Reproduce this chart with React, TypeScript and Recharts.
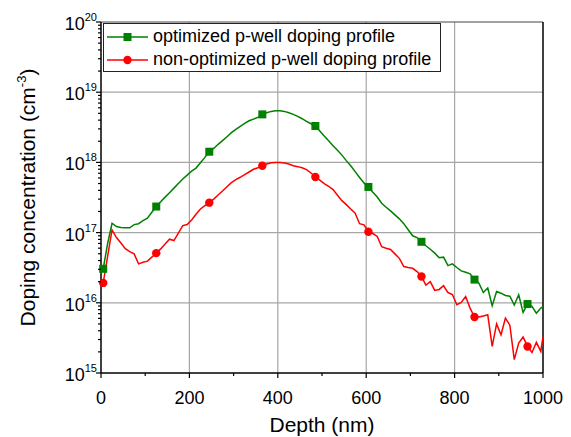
import React from 'react';
import { LineChart, Line, XAxis, YAxis, ReferenceLine, Legend, Label } from 'recharts';

// depth (nm) of each measured point
const depth = [
  5, 15, 25, 35, 45, 55, 65, 75, 85, 95,
  105, 115, 125, 135, 145, 155, 165, 175, 185, 195,
  205, 215, 225, 235, 245, 255, 265, 275, 285, 295,
  305, 315, 325, 335, 345, 355, 365, 375, 385, 395,
  405, 415, 425, 435, 445, 455, 465, 475, 485, 495,
  505, 515, 525, 535, 545, 555, 565, 575, 585, 595,
  605, 615, 625, 635, 645, 655, 665, 675, 685, 695,
  705, 715, 725, 735, 745, 755, 765, 775, 785, 795,
  805, 815, 825, 835, 845, 855, 865, 875, 885, 895,
  905, 915, 925, 935, 945, 955, 965, 975, 985, 995, 1000,
];

// optimized p-well doping profile (cm^-3)
const optimized = [
  3.05e16, 7.0e16, 1.36e17, 1.22e17, 1.18e17, 1.17e17, 1.17e17, 1.3e17, 1.34e17, 1.48e17,
  1.6e17, 1.95e17, 2.35e17, 2.76e17, 3.2e17, 3.7e17, 4.3e17, 5.0e17, 5.8e17, 6.6e17,
  7.5e17, 8.3e17, 9.9e17, 1.18e18, 1.42e18, 1.58e18, 1.81e18, 2.04e18, 2.32e18, 2.65e18,
  2.95e18, 3.26e18, 3.6e18, 3.92e18, 4.14e18, 4.37e18, 4.83e18, 5.1e18, 5.33e18, 5.43e18,
  5.43e18, 5.33e18, 5.1e18, 4.83e18, 4.53e18, 4.19e18, 3.85e18, 3.55e18, 3.3e18, 2.8e18,
  2.37e18, 2.04e18, 1.73e18, 1.49e18, 1.27e18, 1.06e18, 8.98e17, 7.4e17, 6.1e17, 5.1e17,
  4.47e17, 3.76e17, 3.22e17, 2.62e17, 2.3e17, 2.04e17, 1.79e17, 1.57e17, 1.34e17, 1.1e17,
  9.0e16, 8.5e16, 7.4e16, 6.5e16, 5.8e16, 5.1e16, 4.4e16, 4.47e16, 3.39e16, 3.59e16,
  3.18e16, 2.85e16, 2.73e16, 2.59e16, 2.14e16, 1.9e16, 1.4e16, 1.62e16, 9.1e15, 1.45e16,
  1.37e16, 1.27e16, 1.24e16, 9.3e15, 1.3e16, 7.3e15, 9.6e15, 8.9e15, 7.1e15, 8.4e15, 8.8e15,
];

// non-optimized p-well doping profile (cm^-3)
const nonOptimized = [
  1.92e16, 4.6e16, 1.09e17, 8.5e16, 7.1e16, 5.9e16, 5.37e16, 4.98e16, 3.59e16, 3.79e16,
  3.92e16, 4.47e16, 5.1e16, 5.86e16, 6.9e16, 8.05e16, 7.7e16, 9.8e16, 1.26e17, 1.3e17,
  1.51e17, 1.83e17, 2.17e17, 2.42e17, 2.67e17, 3.0e17, 3.44e17, 3.92e17, 4.5e17, 5.14e17,
  5.67e17, 6.14e17, 6.7e17, 7.3e17, 7.98e17, 8.4e17, 8.98e17, 9.5e17, 9.9e17, 1.0e18,
  1.0e18, 9.8e17, 9.5e17, 8.98e17, 8.7e17, 8.4e17, 7.9e17, 7.07e17, 6.2e17, 5.6e17,
  4.98e17, 4.57e17, 4.1e17, 3.4e17, 2.85e17, 2.5e17, 2.17e17, 1.89e17, 1.34e17, 1.29e17,
  1.03e17, 9.7e16, 8.8e16, 6.3e16, 6.0e16, 5.74e16, 4.98e16, 4.3e16, 3.28e16, 3.18e16,
  3.1e16, 2.79e16, 2.37e16, 1.79e16, 2.0e16, 1.5e16, 1.55e16, 1.75e16, 1.4e16, 1.31e16,
  9.4e15, 1.01e16, 1.23e16, 8.4e15, 6.27e15, 6.27e15, 6.5e15, 6.75e15, 2.39e15, 5.0e15,
  3.5e15, 6.06e15, 4.8e15, 1.55e15, 2.67e15, 3.25e15, 2.39e15, 1.96e15, 2.73e15, 2.03e15, 3.3e15,
];

const xTicks = [0, 100, 200, 300, 400, 500, 600, 700, 800, 900, 1000];
const xGrid = [200, 400, 600, 800];
const yDecades = [1e15, 1e16, 1e17, 1e18, 1e19, 1e20];
const yGrid = [1e16, 1e17, 1e18, 1e19];
const yMinor = [2, 3, 4, 5, 6, 7, 8, 9];
const yTicks = yDecades.flatMap((d, i) => (i < yDecades.length - 1 ? [d, ...yMinor.map(m => m * d)] : [d]));

const seriesOrder = ['optimized', 'nonOptimized'];

const MARKER_EVERY = 12;
const FONT = '"Liberation Sans", Arial, sans-serif';
const GREEN = '#008000';
const RED = '#ff0000';

const rows = depth.map((d, i) => ({ depth: d, optimized: optimized[i], nonOptimized: nonOptimized[i] }));

const XTick = (props: any) => {
  const { x, y, payload } = props;
  const major = payload.value % 200 === 0;
  return (
    <g>
      <line x1={x} x2={x} y1={y} y2={y + (major ? 5 : 3)} stroke="#000" strokeWidth={1.2} />
      {major && (
        <text x={x} y={y + 31} textAnchor="middle" fontSize={18} fontFamily={FONT} fill="#000">
          {payload.value}
        </text>
      )}
    </g>
  );
};

const YTick = (props: any) => {
  const { x, y, payload } = props;
  const exp = Math.log10(payload.value);
  const major = Math.abs(exp - Math.round(exp)) < 1e-6;
  return (
    <g>
      <line x1={x - (major ? 5 : 3)} x2={x} y1={y} y2={y} stroke="#000" strokeWidth={1.2} />
      {major && (
        <text x={x - 4} y={y + 8} textAnchor="end" fontSize={18} fontFamily={FONT} fill="#000">
          10
          <tspan dy={-9} fontSize={11}>{Math.round(exp)}</tspan>
        </text>
      )}
    </g>
  );
};

const YTitle = (props: any) => {
  const { viewBox } = props;
  const cx = 35;
  const cy = viewBox.y + viewBox.height / 2;
  return (
    <text x={cx} y={cy} transform={`rotate(-90, ${cx}, ${cy})`} textAnchor="middle" fontSize={21} fontFamily={FONT} fill="#000">
      Doping concentration (cm
      <tspan dy={-9} fontSize={13}>-3</tspan>
      <tspan dy={9}>)</tspan>
    </text>
  );
};

const XTitle = (props: any) => {
  const { viewBox } = props;
  return (
    <text x={viewBox.x + viewBox.width / 2} y={viewBox.y + 59} textAnchor="middle" fontSize={21} fontFamily={FONT} fill="#000">
      Depth (nm)
    </text>
  );
};

const squareDot = (p: any) =>
  p.index % MARKER_EVERY === 0 ? (
    <rect key={`sq-${p.index}`} x={p.cx - 4} y={p.cy - 4} width={8} height={8} fill={GREEN} />
  ) : (
    <g key={`sq-${p.index}`} />
  );

const circleDot = (p: any) =>
  p.index % MARKER_EVERY === 0 ? (
    <circle key={`ci-${p.index}`} cx={p.cx} cy={p.cy} r={4.2} fill={RED} />
  ) : (
    <g key={`ci-${p.index}`} />
  );

const LegendBox = (props: any) => {
  const { payload = [] } = props;
  const items = [...payload].sort(
    (a: any, b: any) => seriesOrder.indexOf(a.dataKey) - seriesOrder.indexOf(b.dataKey),
  );
  return (
    <div style={{ fontFamily: FONT, fontSize: 18, color: '#000', paddingTop: 1 }}>
      {items.map((entry: any) => (
        <div key={entry.value} style={{ display: 'flex', alignItems: 'center', height: 23, whiteSpace: 'nowrap' }}>
          <svg width={46} height={20} style={{ flex: 'none' }}>
            <line x1={3} x2={44} y1={10} y2={10} stroke={entry.color} strokeWidth={1.5} />
            {entry.dataKey === 'optimized' ? (
              <rect x={19.5} y={6} width={8} height={8} fill={entry.color} />
            ) : (
              <circle cx={23.5} cy={10} r={4.2} fill={entry.color} />
            )}
          </svg>
          <span style={{ marginLeft: 3 }}>{entry.value}</span>
        </div>
      ))}
    </div>
  );
};

export default function App() {
  return (
    <div style={{ position: 'absolute', left: 0, top: 0, width: 571, height: 437, background: '#fff' }}>
      <LineChart width={571} height={437} data={rows} margin={{ top: 22, right: 28, bottom: 0, left: 0 }}>
        {xGrid.map(v => (
          <ReferenceLine key={`gx-${v}`} x={v} stroke="#a6a6a6" strokeWidth={1.2} zIndex={-50} />
        ))}
        {yGrid.map(v => (
          <ReferenceLine key={`gy-${v}`} y={v} stroke="#a6a6a6" strokeWidth={1.2} zIndex={-50} />
        ))}
        <ReferenceLine y={1e20} stroke="#444" strokeWidth={1} zIndex={-50} />
        <ReferenceLine x={1000} stroke="#000" strokeWidth={1.5} zIndex={-50} />
        <XAxis
          dataKey="depth"
          type="number"
          domain={[0, 1000]}
          ticks={xTicks}
          interval={0}
          tick={<XTick />}
          tickLine={false}
          tickSize={0}
          tickMargin={0}
          axisLine={{ stroke: '#000', strokeWidth: 1.5 }}
          height={64}
        >
          <Label content={<XTitle />} />
        </XAxis>
        <YAxis
          type="number"
          scale="log"
          domain={[1e15, 1e20]}
          allowDataOverflow
          ticks={yTicks}
          interval={0}
          tick={<YTick />}
          tickLine={false}
          tickSize={0}
          tickMargin={0}
          axisLine={{ stroke: '#000', strokeWidth: 1.5 }}
          width={101}
        >
          <Label content={<YTitle />} />
        </YAxis>
        <Legend
          layout="vertical"
          align="center"
          verticalAlign="middle"
          content={<LegendBox />}
          wrapperStyle={{
            left: 103,
            top: 23,
            width: 338,
            height: 49,
            border: '1px solid #222',
            background: '#fff',
            boxSizing: 'border-box',
          }}
        />
        <Line
          type="linear"
          dataKey="optimized"
          name="optimized p-well doping profile"
          stroke={GREEN}
          strokeWidth={1.5}
          dot={squareDot}
          activeDot={false}
          isAnimationActive={false}
        />
        <Line
          type="linear"
          dataKey="nonOptimized"
          name="non-optimized p-well doping profile"
          stroke={RED}
          strokeWidth={1.5}
          dot={circleDot}
          activeDot={false}
          isAnimationActive={false}
        />
      </LineChart>
    </div>
  );
}
